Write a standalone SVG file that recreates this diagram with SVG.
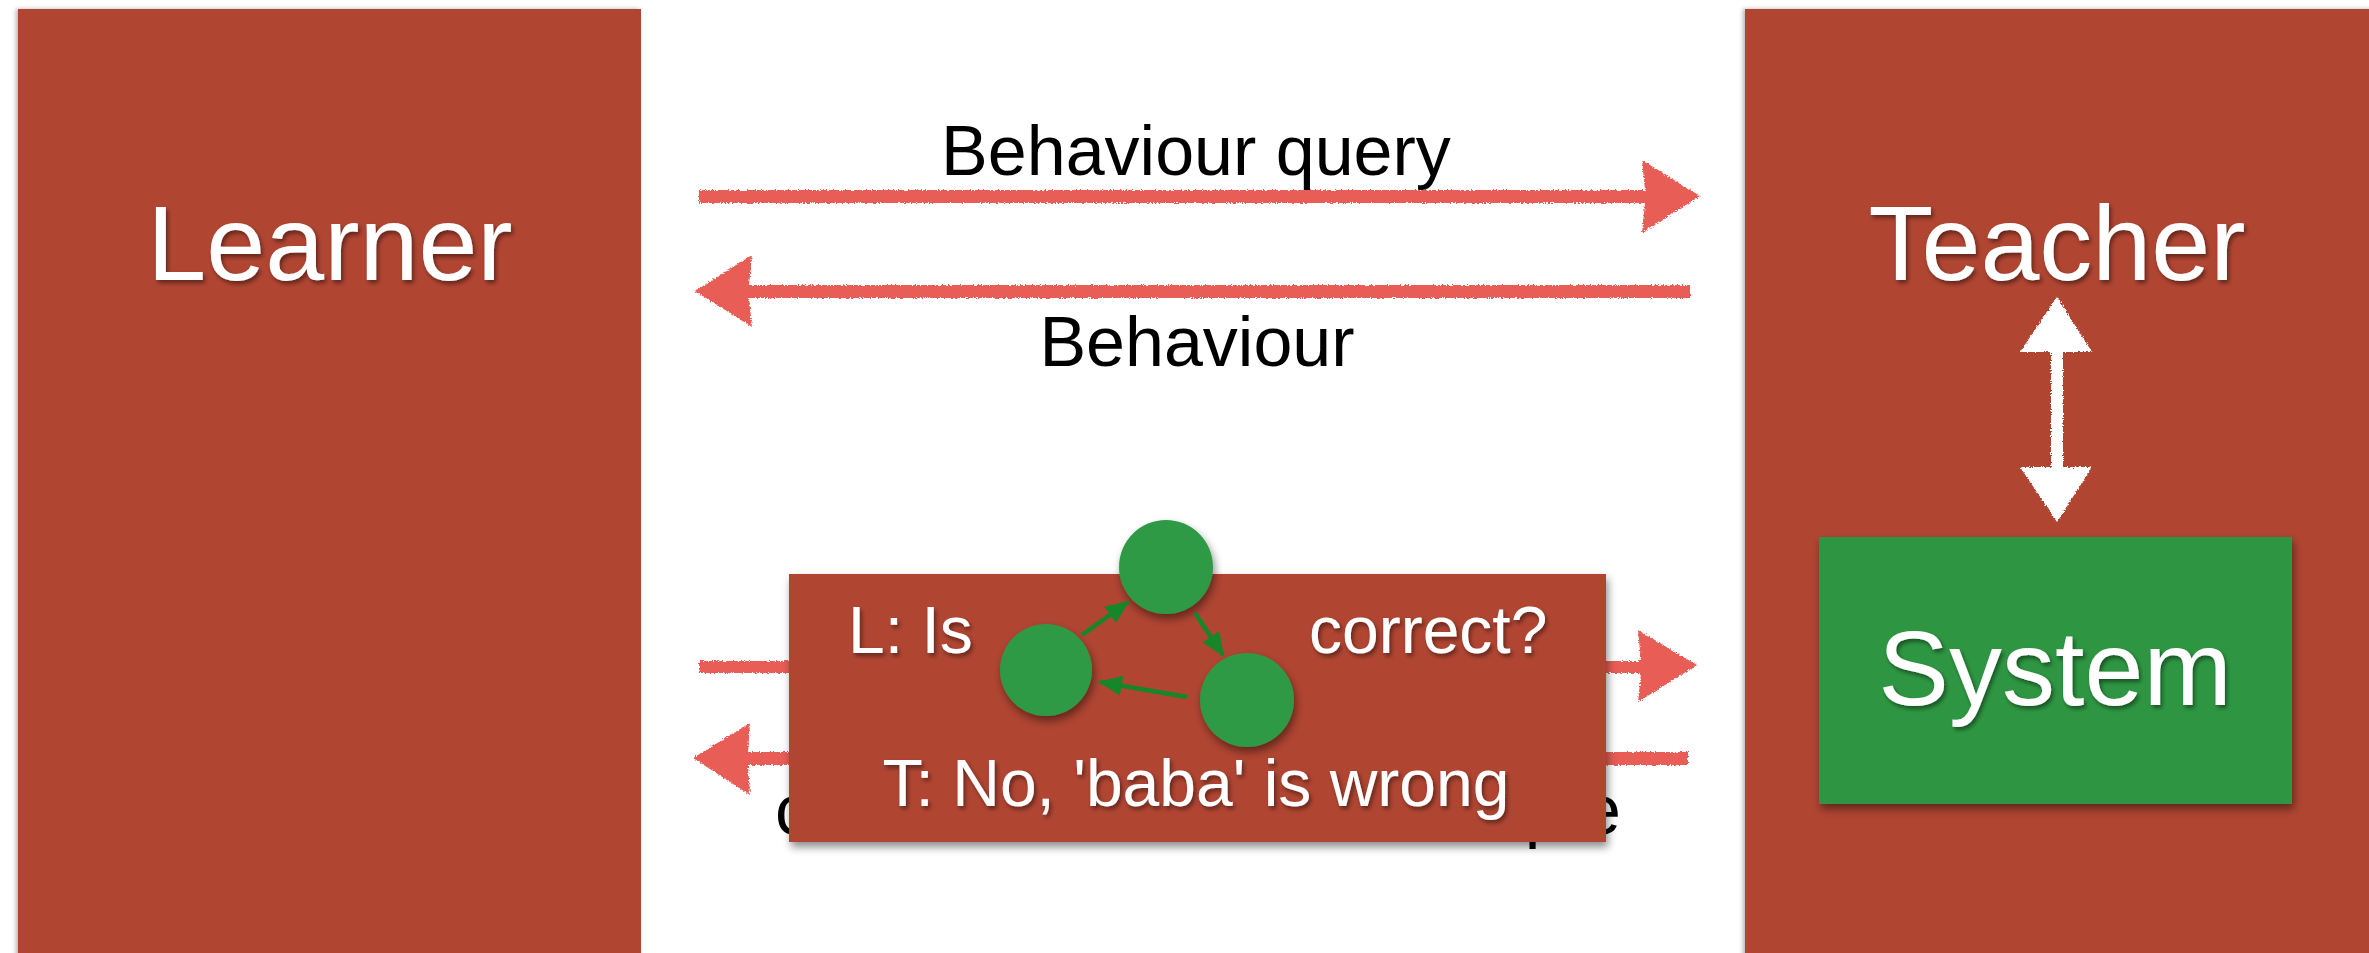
<svg xmlns="http://www.w3.org/2000/svg" width="2369" height="953" viewBox="0 0 2369 953">
  <defs>
    <style>
      .panel { fill: #b04533; }
      .big { font-family: "Liberation Sans", Arial, sans-serif; font-size: 106px; fill: #ffffff; text-anchor: middle; }
      .lbl { font-family: "Liberation Sans", Arial, sans-serif; font-size: 70px; fill: #000000; text-anchor: middle; }
      .ov { font-family: "Liberation Sans", Arial, sans-serif; font-size: 66px; fill: #ffffff; }
      .redarrow { fill: #e85d56; }
      .chalk { fill: #ffffff; }
      .dot { fill: #2f9a44; }
      .garrow { stroke: #16862a; stroke-width: 4.5; fill: none; }
    </style>
    <filter id="rough" x="-5%" y="-20%" width="110%" height="140%">
      <feTurbulence type="fractalNoise" baseFrequency="0.6" numOctaves="2" seed="3" result="n"/>
      <feDisplacementMap in="SourceGraphic" in2="n" scale="4" xChannelSelector="R" yChannelSelector="G"/>
    </filter>
    <filter id="tshadow" x="-10%" y="-20%" width="120%" height="150%">
      <feDropShadow dx="2" dy="3" stdDeviation="2" flood-color="#000" flood-opacity="0.45"/>
    </filter>
    <filter id="bshadow" x="-10%" y="-10%" width="120%" height="125%">
      <feDropShadow dx="2" dy="5" stdDeviation="4" flood-color="#000" flood-opacity="0.45"/>
    </filter>
    <filter id="pshadow" x="-5%" y="-5%" width="110%" height="110%">
      <feDropShadow dx="-2" dy="0" stdDeviation="2" flood-color="#000" flood-opacity="0.3"/>
    </filter>
    <marker id="gh" markerUnits="userSpaceOnUse" markerWidth="26" markerHeight="26" refX="22" refY="12" orient="auto">
      <path d="M0,2 L24,12 L0,22 Z" fill="#16862a"/>
    </marker>
  </defs>

  <rect x="0" y="0" width="2369" height="953" fill="#ffffff"/>

  <g id="learner">
    <rect class="panel" x="18" y="9" width="623" height="950" filter="url(#pshadow)"/>
    <text class="big" x="330" y="280" filter="url(#tshadow)">Learner</text>
  </g>

  <g id="teacher">
    <rect class="panel" x="1745" y="9" width="630" height="950" filter="url(#pshadow)"/>
    <text class="big" x="2057" y="280" filter="url(#tshadow)">Teacher</text>
    <g filter="url(#rough)">
      <rect class="chalk" x="2051" y="345" width="12" height="126"/>
      <path class="chalk" d="M2057,297 L2092,352 L2020,352 Z"/>
      <path class="chalk" d="M2020,467 L2092,467 L2057,522 Z"/>
    </g>
  </g>

  <g id="system">
    <rect x="1819" y="537" width="473" height="267" fill="#2f9643" filter="url(#bshadow)"/>
    <text class="big" x="2055" y="705" filter="url(#tshadow)">System</text>
  </g>

  <g id="connectors" filter="url(#rough)">
    <path class="redarrow" d="M699,190 L1645,190 L1642,160 L1700,196 L1642,233 L1645,203 L699,203 Z"/>
    <path class="redarrow" d="M1690,285 L749,285 L752,255 L695,291 L752,327 L749,298 L1690,298 Z"/>
    <path class="redarrow" d="M699,661 L1641,661 L1638,630 L1697,665 L1638,702 L1641,673 L699,673 Z"/>
    <path class="redarrow" d="M1688,752 L748,752 L750,723 L693,758 L750,795 L748,765 L1688,765 Z"/>
  </g>

  <g id="labels">
    <text class="lbl" x="1196" y="175">Behaviour query</text>
    <text class="lbl" x="1197" y="366">Behaviour</text>
    <text class="lbl" x="1198" y="834" textLength="846" lengthAdjust="spacing">correct or counterexample</text>
  </g>

  <g id="query-card">
    <rect x="789" y="574" width="817" height="268" fill="#b04533" filter="url(#bshadow)"/>
    <text class="ov" x="848" y="653" filter="url(#tshadow)">L: Is</text>
    <text class="ov" x="1309" y="653" filter="url(#tshadow)">correct?</text>
    <text class="ov" x="1196" y="806" text-anchor="middle" filter="url(#tshadow)">T: No, 'baba' is wrong</text>
    <g id="hypothesis">
      <circle class="dot" cx="1166" cy="567" r="47" filter="url(#bshadow)"/>
      <circle class="dot" cx="1046" cy="670" r="46" filter="url(#bshadow)"/>
      <circle class="dot" cx="1247" cy="700" r="47" filter="url(#bshadow)"/>
      <line class="garrow" x1="1082" y1="635" x2="1128" y2="602" marker-end="url(#gh)"/>
      <line class="garrow" x1="1195" y1="613" x2="1223" y2="655" marker-end="url(#gh)"/>
      <line class="garrow" x1="1187" y1="697" x2="1100" y2="682" marker-end="url(#gh)"/>
    </g>
  </g>
</svg>
